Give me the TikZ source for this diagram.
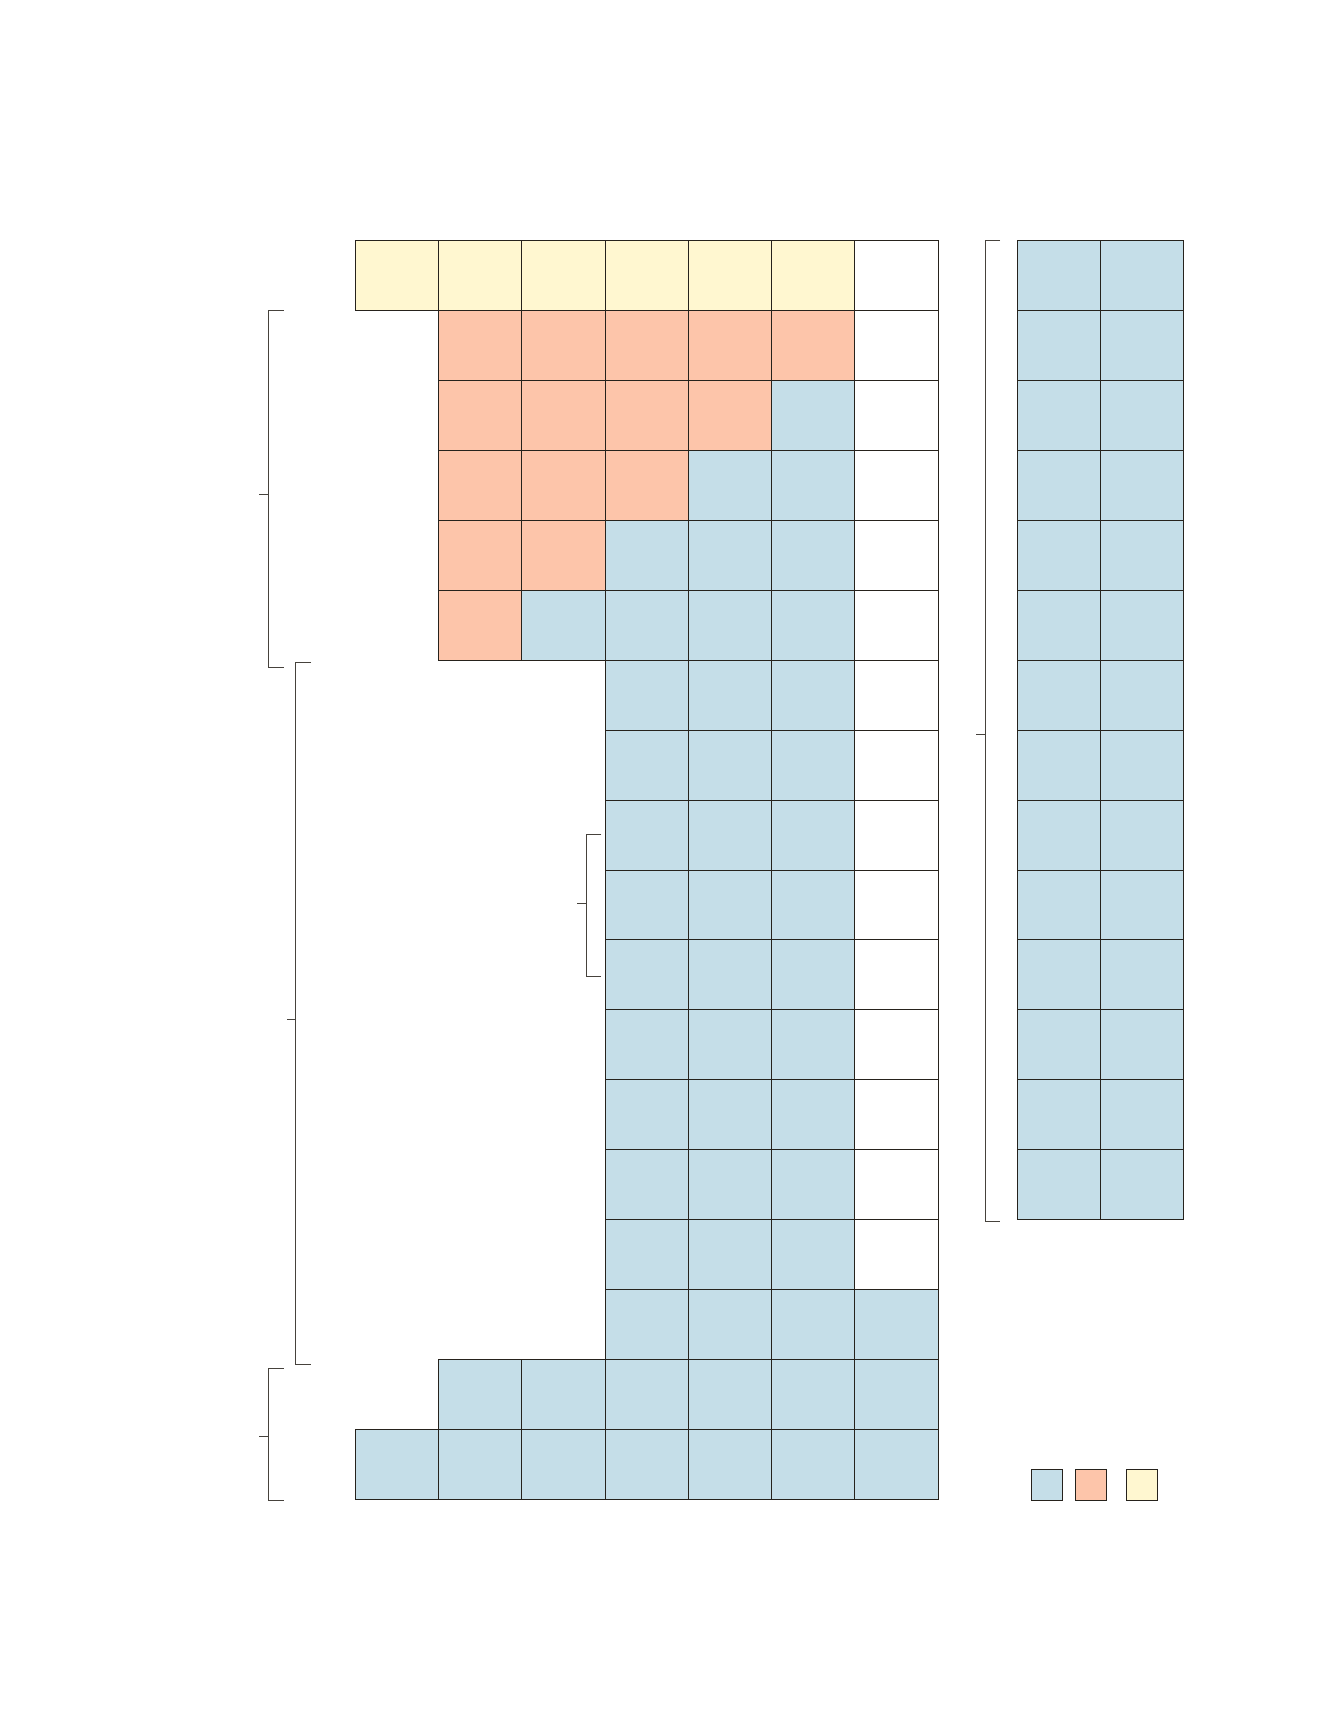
\documentclass[tikz,border=0pt]{standalone}
\definecolor{cblue}{RGB}{197,222,232}
\definecolor{corange}{RGB}{253,197,170}
\definecolor{cyellow}{RGB}{255,247,208}
\definecolor{cline}{RGB}{38,34,28}
\definecolor{cbrk}{RGB}{70,66,60}
\tikzset{
  cell/.style={draw=cline, line width=0.9pt, minimum width=83.29pt, minimum height=69.92pt, inner sep=0pt, outer sep=0pt, anchor=north west},
  rcell/.style={cell, minimum width=83.25pt, fill=cblue},
  legbox/.style={draw=cline, line width=0.9pt, minimum width=31pt, minimum height=31pt, inner sep=0pt, outer sep=0pt, anchor=north west},
  brk/.style={draw=cbrk, line width=1pt}
}
\begin{document}
\begin{tikzpicture}[x=1pt,y=-1pt]
\useasboundingbox (0,0) rectangle (1338,1709);
\fill[white] (0,0) rectangle (1338,1709);
% row 0
\foreach \c in {0,...,5}{
  \node[cell,fill=cyellow] (m-0-\c) at ({355.2+\c*83.29},240.7) {};
}
\node[cell,fill=white] (m-0-6) at ({355.2+6*83.29},240.7) {};
% rows 1-5
\foreach \r in {1,...,5}{
  \foreach \c in {1,...,5}{
    \pgfmathtruncatemacro\lim{6-\r}
    \ifnum\c>\lim \def\f{cblue}\else\def\f{corange}\fi
    \node[cell,fill=\f] (m-\r-\c) at ({355.2+\c*83.29},{240.7+\r*69.92}) {};
  }
  \node[cell,fill=white] (m-\r-6) at ({355.2+6*83.29},{240.7+\r*69.92}) {};
}
% rows 6-14
\foreach \r in {6,...,14}{
  \foreach \c in {3,4,5}{
    \node[cell,fill=cblue] (m-\r-\c) at ({355.2+\c*83.29},{240.7+\r*69.92}) {};
  }
  \node[cell,fill=white] (m-\r-6) at ({355.2+6*83.29},{240.7+\r*69.92}) {};
}
% row 15
\foreach \c in {3,...,6}{
  \node[cell,fill=cblue] (m-15-\c) at ({355.2+\c*83.29},{240.7+15*69.92}) {};
}
% row 16
\foreach \c in {1,...,6}{
  \node[cell,fill=cblue] (m-16-\c) at ({355.2+\c*83.29},{240.7+16*69.92}) {};
}
% row 17
\foreach \c in {0,...,6}{
  \node[cell,fill=cblue] (m-17-\c) at ({355.2+\c*83.29},{240.7+17*69.92}) {};
}
% right table
\foreach \r in {0,...,13}{
  \foreach \c in {0,1}{
    \node[rcell] (r-\r-\c) at ({1017.2+\c*83.25},{240.7+\r*69.92}) {};
  }
}
% brackets
\draw[brk] (283.7,310.3) -- (268.3,310.3) -- (268.3,667.3) -- (283.7,667.3);
\draw[brk] (259,494.7) -- (268.3,494.7);
\draw[brk] (311,662.3) -- (295.5,662.3) -- (295.5,1364.3) -- (311,1364.3);
\draw[brk] (287,1019) -- (295.5,1019);
\draw[brk] (283.7,1368.3) -- (268.3,1368.3) -- (268.3,1500.3) -- (283.7,1500.3);
\draw[brk] (259,1436.7) -- (268.3,1436.7);
\draw[brk] (601.3,834.7) -- (586,834.7) -- (586,976) -- (601.3,976);
\draw[brk] (577,903) -- (586,903);
\draw[brk] (1000,240.7) -- (985,240.7) -- (985,1221.5) -- (1000,1221.5);
\draw[brk] (976,734.3) -- (985,734.3);
% legend
\node[legbox,fill=cblue] (leg-b) at (1031.7,1469.3) {};
\node[legbox,fill=corange] (leg-o) at (1075.7,1469.3) {};
\node[legbox,fill=cyellow] (leg-y) at (1126,1469.3) {};
\end{tikzpicture}
\end{document}
